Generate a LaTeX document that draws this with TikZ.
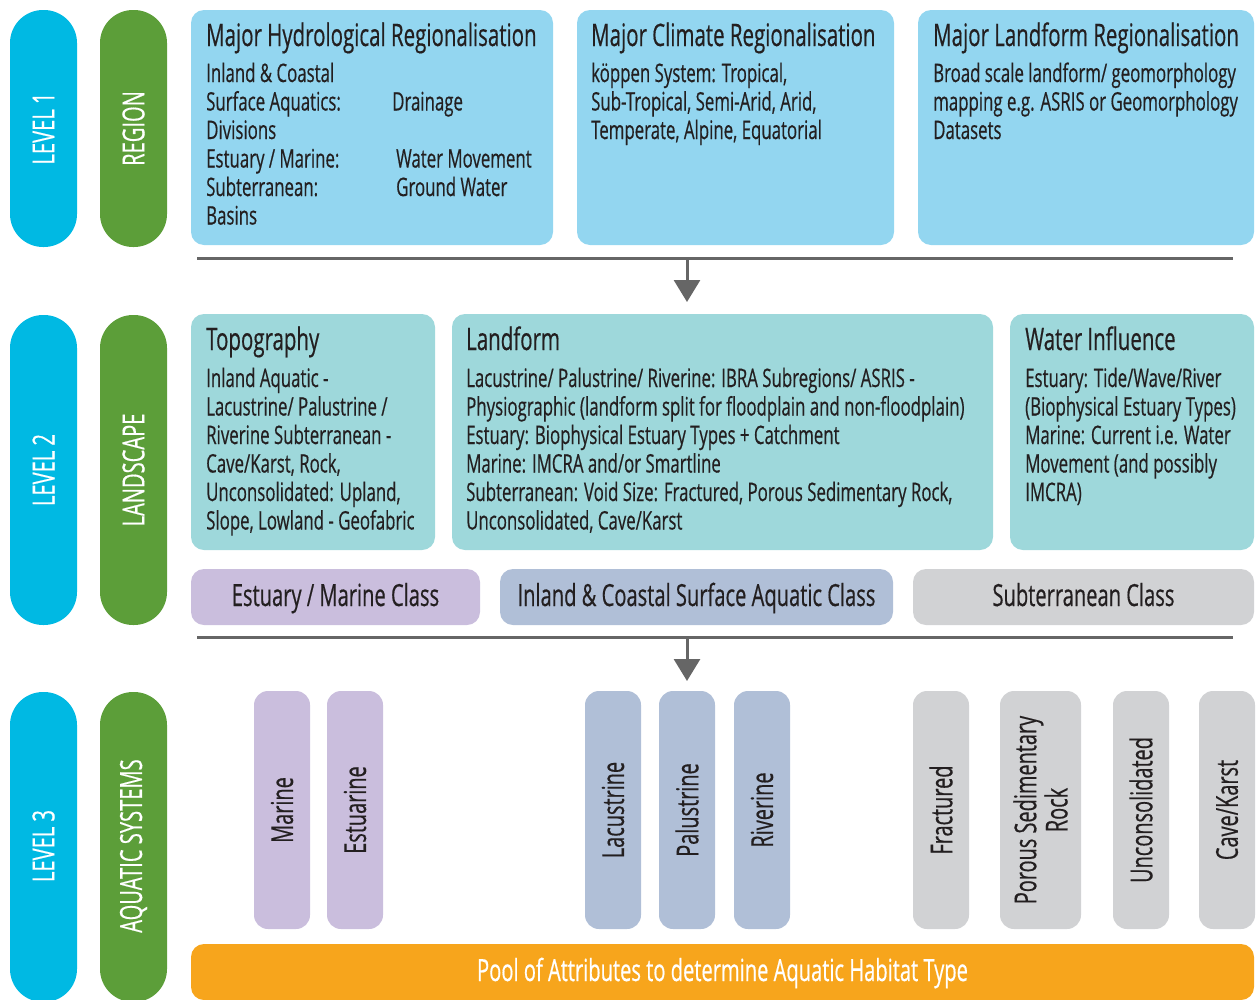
\documentclass[tikz,border=0pt]{standalone}
\usepackage{fontspec}
\setmainfont{Open Sans}[FakeStretch=0.66,FakeBold=0.45]
\usetikzlibrary{arrows.meta}
\definecolor{cyanL}{HTML}{00B9E3}
\definecolor{greenL}{HTML}{5C9E39}
\definecolor{boxA}{HTML}{93D6F0}
\definecolor{boxB}{HTML}{9ED8DB}
\definecolor{purp}{HTML}{CABEDD}
\definecolor{blug}{HTML}{B0BFD7}
\definecolor{greyC}{HTML}{D1D2D4}
\definecolor{orng}{HTML}{F7A51C}
\definecolor{txt}{HTML}{231F20}
\definecolor{sepc}{HTML}{666666}
\begin{document}
\begin{tikzpicture}[x=1pt,y=-1pt,
  shp/.style={inner sep=0pt, outer sep=0pt, anchor=north west},
  panel/.style={shp, rounded corners=13pt},
  pill/.style={shp, rounded corners=33pt},
  vpill/.style={shp, rounded corners=14pt},
  lvltext/.style={rotate=90, inner sep=0pt, text=white, font=\fontsize{30.5}{32}\selectfont},
  ttl/.style={anchor=base west, inner sep=0pt, text=txt, font=\fontsize{31}{33}\selectfont},
  bdy/.style={anchor=base west, inner sep=0pt, text=txt, font=\fontsize{25.5}{28.5}\selectfont},
  clstext/.style={anchor=base, inner sep=0pt, text=txt, font=\fontsize{30.5}{32}\selectfont},
  systext/.style={rotate=90, inner sep=0pt, text=txt, align=center, font=\fontsize{30.2}{28.5}\selectfont},
  sepline/.style={draw=sepc, line width=3pt},
  arr/.style={draw=sepc, line width=3pt, -{Triangle[width=26pt,length=22pt]}}
]
\useasboundingbox (0,0) rectangle (1256,999);

% ---------- level pills ----------
\node[pill, fill=cyanL, minimum width=67pt, minimum height=237pt] (lv1) at (10,10) {};
\node[pill, fill=greenL, minimum width=67pt, minimum height=237pt] (rg1) at (100,10) {};
\node[pill, fill=cyanL, minimum width=67pt, minimum height=310pt] (lv2) at (10,315) {};
\node[pill, fill=greenL, minimum width=67pt, minimum height=310pt] (rg2) at (100,315) {};
\node[pill, fill=cyanL, minimum width=67pt, minimum height=310pt] (lv3) at (10,692) {};
\node[pill, fill=greenL, minimum width=67pt, minimum height=310pt] (rg3) at (100,692) {};
\node[lvltext] (lv1t) at (lv1.center) {LEVEL 1};
\node[lvltext] (rg1t) at (rg1.center) {REGION};
\node[lvltext] (lv2t) at (lv2.center) {LEVEL 2};
\node[lvltext] (rg2t) at (rg2.center) {LANDSCAPE};
\node[lvltext] (lv3t) at (43.5,846) {LEVEL 3};
\node[lvltext] (rg3t) at (133.5,846) {AQUATIC SYSTEMS};

% ---------- level 1 ----------
\node[panel, fill=boxA, minimum width=362pt, minimum height=235pt] (hyd) at (191,10) {};
\node[panel, fill=boxA, minimum width=317pt, minimum height=235pt] (cli) at (577,10) {};
\node[panel, fill=boxA, minimum width=336pt, minimum height=235pt] (lnd) at (918,10) {};
\node[ttl] (hydT) at (206,46) {Major Hydrological Regionalisation};
\node[ttl] (cliT) at (591,46) {Major Climate Regionalisation};
\node[ttl] (lndT) at (933,46) {Major Landform Regionalisation};
\node[bdy] (hydB) at (206,82) {\parbox[t]{340pt}{Inland \& Coastal\\
  \makebox[186pt][l]{Surface Aquatics:}Drainage\\
  Divisions\\
  \makebox[190pt][l]{Estuary / Marine:}Water Movement\\
  \makebox[190pt][l]{Subterranean:}Ground Water\\
  Basins}};
\node[bdy] (cliB) at (591,82) {\parbox[t]{300pt}{köppen System: Tropical,\\
  Sub-Tropical, Semi-Arid, Arid,\\
  Temperate, Alpine, Equatorial}};
\node[bdy] (lndB) at (933,82) {\parbox[t]{320pt}{Broad scale landform/ geomorphology\\
  mapping e.g. ASRIS or Geomorphology\\
  Datasets}};

% ---------- separator 1 ----------
\coordinate (s1w) at (197,258.5);
\coordinate (s1e) at (1233,258.5);
\coordinate (s1m) at (687,258.5);
\coordinate (a1) at (687,302);
\draw[sepline] (s1w) -- (s1e);
\draw[arr] (s1m) -- (a1);

% ---------- level 2 ----------
\node[panel, fill=boxB, minimum width=244pt, minimum height=236pt] (topo) at (191,314) {};
\node[panel, fill=boxB, minimum width=541pt, minimum height=236pt] (lform) at (452,314) {};
\node[panel, fill=boxB, minimum width=244pt, minimum height=236pt] (wat) at (1010,314) {};
\node[ttl] (topoT) at (206,350) {Topography};
\node[ttl] (lformT) at (466,350) {Landform};
\node[ttl] (watT) at (1025,350) {Water Influence};
\node[bdy] (topoB) at (206,387) {\parbox[t]{230pt}{Inland Aquatic -\\
  Lacustrine/ Palustrine /\\
  Riverine Subterranean -\\
  Cave/Karst, Rock,\\
  Unconsolidated: Upland,\\
  Slope, Lowland - Geofabric}};
\node[bdy] (lformB) at (466,387) {\parbox[t]{520pt}{Lacustrine/ Palustrine/ Riverine: IBRA Subregions/ ASRIS -\\
  Physiographic (landform split for floodplain and non-floodplain)\\
  Estuary: Biophysical Estuary Types + Catchment\\
  Marine: IMCRA and/or Smartline\\
  Subterranean: Void Size: Fractured, Porous Sedimentary Rock,\\
  Unconsolidated, Cave/Karst}};
\node[bdy] (watB) at (1025,387) {\parbox[t]{230pt}{Estuary: Tide/Wave/River\\
  (Biophysical Estuary Types)\\
  Marine: Current i.e. Water\\
  Movement (and possibly\\
  IMCRA)}};

% ---------- class bars ----------
\node[panel, fill=purp, minimum width=289pt, minimum height=56pt] (emc) at (191,569) {};
\node[panel, fill=blug, minimum width=393pt, minimum height=56pt] (icc) at (500,569) {};
\node[panel, fill=greyC, minimum width=341pt, minimum height=56pt] (subc) at (913,569) {};
\node[clstext] (emcT) at (335.5,606) {Estuary / Marine Class};
\node[clstext] (iccT) at (696.5,606) {Inland \& Coastal Surface Aquatic Class};
\node[clstext] (subcT) at (1083.5,606) {Subterranean Class};

% ---------- separator 2 ----------
\coordinate (s2w) at (197,637.5);
\coordinate (s2e) at (1233,637.5);
\coordinate (s2m) at (687,637.5);
\coordinate (a2) at (687,681);
\draw[sepline] (s2w) -- (s2e);
\draw[arr] (s2m) -- (a2);

% ---------- level 3 systems ----------
\node[vpill, fill=purp, minimum width=56pt, minimum height=238pt] (mar) at (254,691) {};
\node[vpill, fill=purp, minimum width=56pt, minimum height=238pt] (est) at (327,691) {};
\node[vpill, fill=blug, minimum width=56pt, minimum height=238pt] (lac) at (585,691) {};
\node[vpill, fill=blug, minimum width=56pt, minimum height=238pt] (pal) at (659,691) {};
\node[vpill, fill=blug, minimum width=56pt, minimum height=238pt] (riv) at (734,691) {};
\node[vpill, fill=greyC, minimum width=56pt, minimum height=238pt] (fra) at (913,691) {};
\node[vpill, fill=greyC, minimum width=81pt, minimum height=238pt] (por) at (1000,691) {};
\node[vpill, fill=greyC, minimum width=56pt, minimum height=238pt] (unc) at (1113,691) {};
\node[vpill, fill=greyC, minimum width=56pt, minimum height=238pt] (cav) at (1199,691) {};
\node[systext] (marT) at (mar.center) {Marine};
\node[systext] (estT) at (est.center) {Estuarine};
\node[systext] (lacT) at (lac.center) {Lacustrine};
\node[systext] (palT) at (pal.center) {Palustrine};
\node[systext] (rivT) at (riv.center) {Riverine};
\node[systext] (fraT) at (fra.center) {Fractured};
\node[systext] (porT) at (por.center) {Porous Sedimentary\\Rock};
\node[systext] (uncT) at (unc.center) {Unconsolidated};
\node[systext] (cavT) at (cav.center) {Cave/Karst};

% ---------- pool ----------
\node[panel, fill=orng, minimum width=1063pt, minimum height=56pt] (pool) at (191,944) {};
\node[clstext, text=white] (poolT) at (722.5,981) {Pool of Attributes to determine Aquatic Habitat Type};
\end{tikzpicture}
\end{document}
